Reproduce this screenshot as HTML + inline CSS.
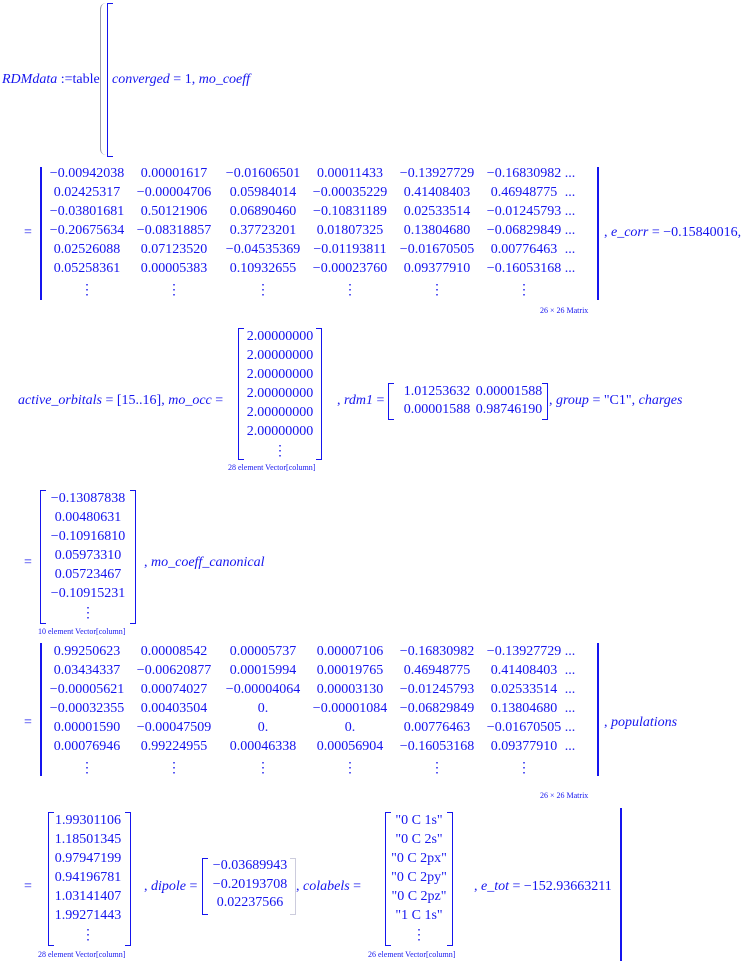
<!DOCTYPE html>
<html><head><style>
body{margin:0;width:756px;height:961px;background:#fff;position:relative;overflow:hidden;font-family:"Liberation Serif",serif;color:#1515ee;font-size:14px}
.t{position:absolute;white-space:nowrap;line-height:14px}
.c{position:absolute;width:120px;text-align:center;white-space:nowrap;line-height:14px}
.i{font-style:italic}
.s{position:absolute;font-size:8px;white-space:nowrap;line-height:8px}
.bl{position:absolute;border:1.5px solid #1515ee;border-right:none;width:5px}
.br{position:absolute;border:1.5px solid #1515ee;border-left:none;width:5px}
.v{position:absolute;width:1.5px;background:#1515ee}
</style></head><body>

<div class="t" style="left:2px;top:73px"><span class="i">RDMdata</span> :=table</div>
<div style="position:absolute;left:100px;top:3px;width:5px;height:152px;border-left:1px solid #99a;border-radius:6px 0 0 6px"></div>
<div class="bl" style="left:107px;top:3px;height:152px"></div>
<div class="t" style="left:112px;top:73px"><span class="i">converged</span> = 1, <span class="i">mo_coeff</span></div>

<div class="t" style="left:24px;top:226px">=</div>
<div class="v" style="left:40px;top:167px;height:133px"></div>
<div class="v" style="left:597px;top:167px;height:133px"></div>
<div id="m1"></div>
<div class="t" style="left:604px;top:226px">, <span class="i">e_corr</span> = −0.15840016,</div>
<div class="s" style="left:540px;top:307px">26 × 26 Matrix</div>

<div class="t i" style="left:18px;top:394px">active_orbitals <span style="font-style:normal">= [15..16],</span> mo_occ <span style="font-style:normal">=</span></div>
<div class="bl" style="left:238px;top:328px;height:130px"></div>
<div class="br" style="left:316px;top:328px;height:130px"></div>
<div id="v1"></div>
<div class="s" style="left:228px;top:464px">28 element Vector[column]</div>
<div class="t" style="left:337px;top:394px">, <span class="i">rdm1</span> =</div>
<div class="bl" style="left:388px;top:383px;height:35px"></div>
<div class="br" style="left:542px;top:383px;height:35px"></div>
<div class="c" style="left:377px;top:385px">1.01253632</div>
<div class="c" style="left:449px;top:385px">0.00001588</div>
<div class="c" style="left:377px;top:403px">0.00001588</div>
<div class="c" style="left:449px;top:403px">0.98746190</div>
<div class="t" style="left:549px;top:394px">, <span class="i">group</span> = "C1", <span class="i">charges</span></div>

<div class="t" style="left:24px;top:556px">=</div>
<div class="bl" style="left:40px;top:490px;height:132px"></div>
<div class="br" style="left:130px;top:490px;height:132px"></div>
<div id="v2"></div>
<div class="t" style="left:144px;top:556px">, <span class="i">mo_coeff_canonical</span></div>
<div class="s" style="left:38px;top:628px">10 element Vector[column]</div>

<div class="t" style="left:24px;top:716px">=</div>
<div class="v" style="left:40px;top:643px;height:133px"></div>
<div class="v" style="left:597px;top:643px;height:133px"></div>
<div id="m2"></div>
<div class="t" style="left:604px;top:716px">, <span class="i">populations</span></div>
<div class="s" style="left:540px;top:792px">26 × 26 Matrix</div>

<div class="t" style="left:24px;top:880px">=</div>
<div class="bl" style="left:48px;top:812px;height:132px"></div>
<div class="br" style="left:125px;top:812px;height:132px"></div>
<div id="v3"></div>
<div class="s" style="left:38px;top:951px">28 element Vector[column]</div>
<div class="t" style="left:144px;top:880px">, <span class="i">dipole</span> =</div>
<div class="bl" style="left:202px;top:858px;height:55px"></div>
<div class="br" style="left:290px;top:858px;height:55px;border-color:#ccd"></div>
<div class="c" style="left:190px;top:859px">−0.03689943</div>
<div class="c" style="left:190px;top:878px">−0.20193708</div>
<div class="c" style="left:190px;top:896px">0.02237566</div>
<div class="t" style="left:296px;top:880px">, <span class="i">colabels</span> =</div>
<div class="bl" style="left:385px;top:812px;height:132px"></div>
<div class="br" style="left:447px;top:812px;height:132px"></div>
<div id="v4"></div>
<div class="s" style="left:368px;top:951px">26 element Vector[column]</div>
<div class="t" style="left:474px;top:880px">, <span class="i">e_tot</span> = −152.93663211</div>
<div class="v" style="left:620px;top:808px;height:153px"></div>

<script>
function put(id,html){document.getElementById(id).innerHTML=html;}
function mat(id,top,rows){
  var cx=[87,174,263,350,437,524],h='';
  rows.forEach(function(r,i){r.forEach(function(v,j){h+='<div class="c" style="left:'+(cx[j]-60)+'px;top:'+(top+i*19)+'px">'+v+'</div>';});
    h+='<div class="c" style="left:510px;top:'+(top+i*19)+'px">...</div>';});
  cx.forEach(function(c){h+='<div class="c" style="left:'+(c-60)+'px;top:'+(top+6*19+3)+'px">⋮</div>';});
  put(id,h);
}
function vec(id,cx,top,vals){
  var h='';vals.forEach(function(v,i){h+='<div class="c" style="left:'+(cx-60)+'px;top:'+(top+i*19)+'px">'+v+'</div>';});
  h+='<div class="c" style="left:'+(cx-60)+'px;top:'+(top+6*19+1)+'px">⋮</div>';put(id,h);
}
mat('m1',167,[
['−0.00942038','0.00001617','−0.01606501','0.00011433','−0.13927729','−0.16830982'],
['0.02425317','−0.00004706','0.05984014','−0.00035229','0.41408403','0.46948775'],
['−0.03801681','0.50121906','0.06890460','−0.10831189','0.02533514','−0.01245793'],
['−0.20675634','−0.08318857','0.37723201','0.01807325','0.13804680','−0.06829849'],
['0.02526088','0.07123520','−0.04535369','−0.01193811','−0.01670505','0.00776463'],
['0.05258361','0.00005383','0.10932655','−0.00023760','0.09377910','−0.16053168']]);
mat('m2',645,[
['0.99250623','0.00008542','0.00005737','0.00007106','−0.16830982','−0.13927729'],
['0.03434337','−0.00620877','0.00015994','0.00019765','0.46948775','0.41408403'],
['−0.00005621','0.00074027','−0.00004064','0.00003130','−0.01245793','0.02533514'],
['−0.00032355','0.00403504','0.','−0.00001084','−0.06829849','0.13804680'],
['0.00001590','−0.00047509','0.','0.','0.00776463','−0.01670505'],
['0.00076946','0.99224955','0.00046338','0.00056904','−0.16053168','0.09377910']]);
vec('v1',280,330,['2.00000000','2.00000000','2.00000000','2.00000000','2.00000000','2.00000000']);
vec('v2',88,492,['−0.13087838','0.00480631','−0.10916810','0.05973310','0.05723467','−0.10915231']);
vec('v3',88,814,['1.99301106','1.18501345','0.97947199','0.94196781','1.03141407','1.99271443']);
vec('v4',419,814,['"0 C 1s"','"0 C 2s"','"0 C 2px"','"0 C 2py"','"0 C 2pz"','"1 C 1s"']);
</script>
</body></html>
